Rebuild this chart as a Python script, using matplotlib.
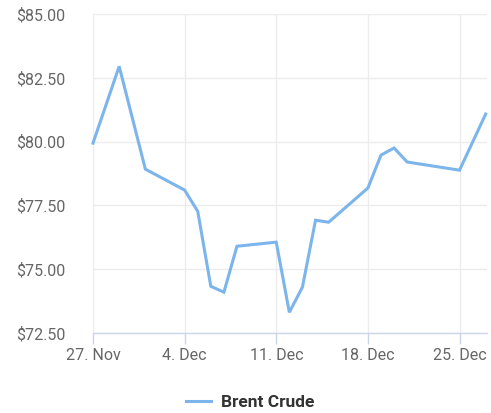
import numpy as np
import matplotlib
matplotlib.use("Agg")
import matplotlib.pyplot as plt
import matplotlib.dates as mdates
from matplotlib.ticker import FuncFormatter
from datetime import date

# Brent crude daily prices
dates = ["2023-11-27", "2023-11-29", "2023-12-01", "2023-12-04", "2023-12-05",
         "2023-12-06", "2023-12-07", "2023-12-08", "2023-12-11", "2023-12-12",
         "2023-12-13", "2023-12-14", "2023-12-15", "2023-12-18", "2023-12-19",
         "2023-12-20", "2023-12-21", "2023-12-25", "2023-12-27"]
prices = [79.94, 82.95, 78.92, 78.10, 77.27,
          74.33, 74.10, 75.90, 76.06, 73.31,
          74.30, 76.92, 76.84, 78.18, 79.47,
          79.75, 79.20, 78.88, 81.08]
xtick_dates = ["2023-11-27", "2023-12-04", "2023-12-11", "2023-12-18", "2023-12-25"]
xtick_labels = ["27. Nov", "4. Dec", "11. Dec", "18. Dec", "25. Dec"]
yticks = [72.5, 75.0, 77.5, 80.0, 82.5, 85.0]
series_name = "Brent Crude"

plt.rcParams['font.family'] = ['Roboto', 'DejaVu Sans']

x = [date.fromisoformat(d) for d in dates]
xt = [date.fromisoformat(d) for d in xtick_dates]

fig = plt.figure(figsize=(4.91, 4.13), dpi=100)
ax = fig.add_axes([93/491, 1 - 333/413, (487 - 93)/491, (333 - 14)/413])

line, = ax.plot(x, prices, color="#7cb5ec", lw=2.2, solid_joinstyle="miter",
                label=series_name, clip_on=False)

x0 = mdates.date2num(date(2023, 11, 27))
ax.set_xlim(x0, x0 + 30.1)
ax.set_ylim(72.5, 85)
ax.set_xticks(xt)
ax.set_xticklabels(xtick_labels)
ax.set_yticks(yticks)
ax.yaxis.set_major_formatter(FuncFormatter(lambda v, p: f"${v:.2f}"))

ax.grid(True, color="#ececec", lw=1)
ax.set_axisbelow(True)
for s in ["top", "right", "left"]:
    ax.spines[s].set_visible(False)
ax.spines["bottom"].set_color("#ccd6eb")
ax.spines["bottom"].set_linewidth(1)

ax.tick_params(axis="y", length=0, pad=20, labelsize=11.5, labelcolor="#666666")
ax.tick_params(axis="x", length=8, width=1, color="#ccd6eb", pad=3,
               labelsize=11.5, labelcolor="#666666")

fig.legend(handles=[line], loc="center", bbox_to_anchor=(0.51, 1 - 402/413),
           frameon=False, handlelength=1.4, handletextpad=0.6,
           prop={"weight": "bold", "size": 12.5})
for t in fig.legends[0].get_texts():
    t.set_color("#333333")

fig.savefig("out.png", dpi=100)
